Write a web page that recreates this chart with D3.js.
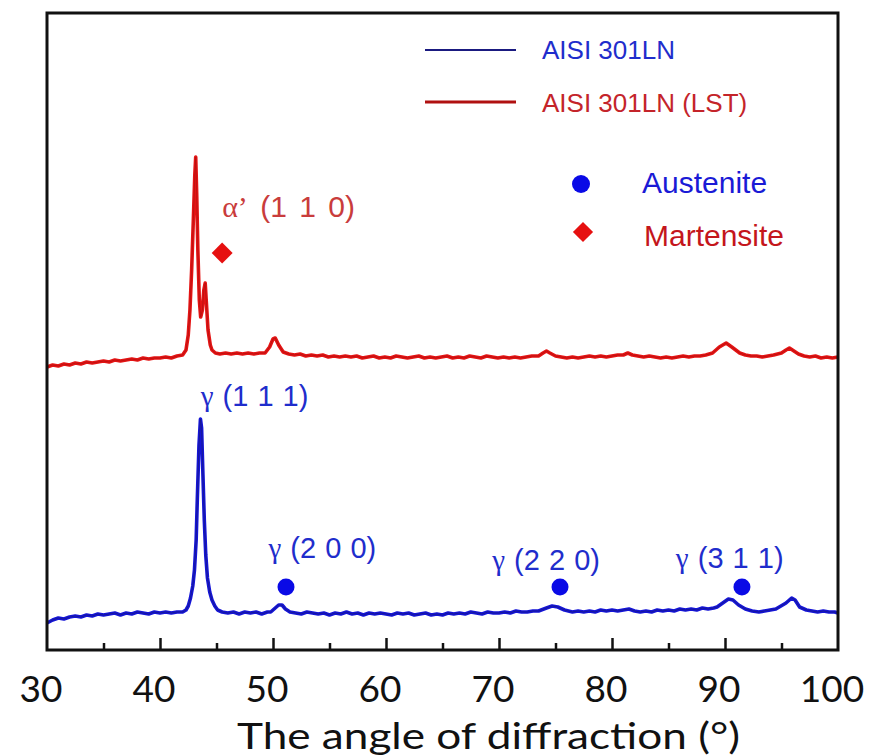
<!DOCTYPE html>
<html>
<head>
<meta charset="utf-8">
<script src="https://cdn.jsdelivr.net/npm/d3@7"></script>
<style>
  body { margin: 0; background: #fff; }
  svg { display: block; }
</style>
</head>
<body>
<svg width="878" height="756"></svg>
<script>
// XRD patterns, intensity in arbitrary units
var untreated = [
  [30.0,27],[30.5,30],[31.0,32],[31.5,31],[32.0,33],[32.5,34],[33.0,33],[33.5,35],[34.0,34],[34.5,36],
  [35.0,35],[35.5,36],[36.0,37],[36.5,35],[37.0,37],[37.5,36],[38.0,38],[38.5,37],[39.0,36],[39.5,38],
  [40.0,37],[40.5,38],[41.0,37],[41.5,38],[42.0,38],[42.3,40],[42.5,44],[42.7,52],[42.9,64],[43.05,80],
  [43.2,110],[43.3,150],[43.45,205],[43.58,231],[43.68,222],[43.8,175],[43.92,130],[44.05,95],[44.2,72],
  [44.4,58],[44.6,50],[44.85,44],[45.1,40],[45.5,38],[46.0,37],[46.5,38],[47.0,36],[47.5,38],[48.0,37],
  [48.5,38],[49.0,36],[49.5,38],[49.8,38],[50.2,42],[50.5,45],[50.8,45],[51.1,41],[51.5,38],[52.0,37],
  [52.5,36],[53.0,38],[53.5,37],[54.0,36],[54.5,37],[55.0,35],[55.5,37],[56.0,36],[56.5,38],[57.0,36],
  [57.5,37],[58.0,35],[58.5,37],[59.0,36],[59.5,37],[60.0,36],[60.5,35],[61.0,37],[61.5,36],[62.0,37],
  [62.5,35],[63.0,36],[63.5,37],[64.0,35],[64.5,36],[65.0,35],[65.5,37],[66.0,36],[66.5,37],[67.0,36],
  [67.5,38],[68.0,37],[68.5,36],[69.0,38],[69.5,37],[70.0,37],[70.5,38],[71.0,37],[71.5,39],[72.0,38],
  [72.5,38],[73.0,39],[73.5,39],[74.2,42],[74.7,44],[75.2,43],[75.8,40],[76.5,38],[77.0,39],[77.5,38],
  [78.0,39],[78.5,38],[79.0,40],[79.5,39],[80.0,40],[80.5,39],[81.0,40],[81.5,41],[82.0,39],[82.5,38],
  [83.0,39],[83.5,38],[84.0,40],[84.5,39],[85.0,40],[85.5,39],[86.0,41],[86.5,40],[87.0,41],[87.5,40],
  [88.0,42],[88.5,41],[89.0,42],[89.3,43],[89.8,47],[90.3,51],[90.7,50],[91.2,45],[91.8,41],[92.4,39],
  [93.0,38],[93.5,39],[94.0,40],[94.5,41],[94.8,43],[95.4,47],[95.9,52],[96.2,50],[96.6,43],[97.2,40],
  [97.7,39],[98.2,38],[98.7,39],[99.2,38],[99.7,38],[100,37]
];

var treated = [
  [30.0,283],[30.5,285],[31.0,284],[31.5,286],[32.0,285],[32.5,287],[33.0,286],[33.5,288],[34.0,287],[34.5,288],
  [35.0,289],[35.5,288],[36.0,290],[36.5,289],[37.0,290],[37.5,291],[38.0,290],[38.5,292],[39.0,291],[39.5,292],
  [40.0,292],[40.5,293],[41.0,292],[41.5,294],[42.0,295],[42.3,300],[42.5,315],[42.65,340],[42.8,380],[42.95,430],
  [43.08,475],[43.16,493],[43.25,455],[43.35,400],[43.48,350],[43.6,333],[43.75,340],[43.88,360],[44.0,367],
  [44.1,348],[44.25,320],[44.45,305],[44.6,300],[44.9,297],[45.3,296],[45.8,297],[46.3,296],[46.8,297],[47.3,296],
  [47.8,297],[48.3,296],[48.8,297],[49.3,297],[49.7,303],[50.0,311],[50.2,312],[50.5,305],[50.9,298],[51.4,296],
  [51.9,295],[52.4,296],[52.9,294],[53.4,295],[53.9,294],[54.4,295],[54.9,293],[55.4,294],[55.9,293],[56.4,294],
  [56.9,293],[57.4,294],[57.9,292],[58.4,293],[58.9,294],[59.4,292],[59.9,293],[60.4,292],[60.9,294],[61.4,293],
  [61.9,292],[62.4,293],[62.9,294],[63.4,292],[63.9,293],[64.4,292],[64.9,293],[65.4,294],[65.9,292],[66.4,293],
  [66.9,292],[67.4,294],[67.9,293],[68.4,292],[68.9,294],[69.4,293],[69.9,292],[70.4,293],[70.9,292],[71.4,293],
  [71.9,292],[72.4,293],[72.9,294],[73.5,294],[73.9,297],[74.2,299],[74.5,297],[75.0,294],[75.5,293],[76.0,292],
  [76.5,293],[77.0,292],[77.5,293],[78.0,294],[78.5,293],[79.0,294],[79.5,293],[80.0,294],[80.5,295],[81.0,295],
  [81.4,297],[81.8,295],[82.3,294],[82.8,293],[83.3,294],[83.8,293],[84.3,292],[84.8,293],[85.3,292],[85.8,293],
  [86.3,294],[86.8,293],[87.3,294],[87.8,294],[88.3,295],[88.9,297],[89.5,303],[90.1,307],[90.6,303],[91.3,297],
  [91.8,295],[92.3,294],[92.8,294],[93.3,293],[93.8,294],[94.3,295],[95.0,297],[95.4,300],[95.7,302],[96.1,299],
  [96.5,296],[97.0,294],[97.5,293],[98.0,294],[98.5,292],[99.0,293],[99.5,292],[100,293]
];

var xTicks = [30, 40, 50, 60, 70, 80, 90, 100];
var xMinorTicks = [35, 45, 55, 65, 75, 85, 95];

// phase markers [angle, level]
var austeniteMarks = [[51.15, 63], [75.4, 63], [91.5, 63]];
var martensiteMarks = [[45.5, 397]];

// peak labels [text, angle, level]
var austeniteLabels = [
  ["γ (1 1 1)", 43.6, 244],
  ["γ (2 0 0)", 49.6, 92],
  ["γ (2 2 0)", 69.4, 80],
  ["γ (3 1 1)", 85.65, 82]
];
var martensiteLabels = [["α’ (1 1 0)", 45.5, 433]];

var seriesNames = ["AISI 301LN", "AISI 301LN (LST)"];

var svg = d3.select("svg");
var plotLeft = 47, plotRight = 838, plotTop = 13, plotBottom = 650;

var x = d3.scaleLinear().domain([30, 100]).range([plotLeft, plotRight]);
var y = d3.scaleLinear().domain([0, 637]).range([plotBottom, plotTop]);

var blue = "#1414d6", blueDark = "#1a1a80", red = "#e41414", redDark = "#b01010";
var blueText = "#1f2dcc", redText = "#c4242a";

var line = d3.line()
    .x(function(d) { return x(d[0]); })
    .y(function(d) { return y(d[1]); });

// patterns: wide bright stroke with a dark core
[[untreated, blue, blueDark], [treated, red, redDark]].forEach(function(s) {
    svg.append("path").datum(s[0])
        .attr("d", line).attr("fill", "none")
        .attr("stroke", s[1]).attr("stroke-width", 3.6).attr("stroke-linejoin", "round");
    svg.append("path").datum(s[0])
        .attr("d", line).attr("fill", "none")
        .attr("stroke", s[2]).attr("stroke-width", 1).attr("stroke-opacity", 0.7);
});

// frame
svg.append("rect")
    .attr("x", plotLeft).attr("y", plotTop)
    .attr("width", plotRight - plotLeft).attr("height", plotBottom - plotTop)
    .attr("fill", "none").attr("stroke", "#111").attr("stroke-width", 3);

// x axis, ticks pointing inward
var axis = svg.append("g").attr("transform", "translate(0," + plotBottom + ")");
axis.call(d3.axisBottom(x).tickValues(xTicks.slice(1, -1)).tickSize(-12).tickFormat(""));
axis.append("g").call(d3.axisBottom(x).tickValues(xMinorTicks).tickSize(-7).tickFormat(""));
axis.selectAll(".domain").remove();
axis.selectAll("line").attr("stroke", "#111").attr("stroke-width", 2.5);

svg.append("g").selectAll("text")
    .data(xTicks).enter().append("text")
    .attr("x", function(d) { return x(d) - 6; })
    .attr("y", 702)
    .attr("text-anchor", "middle")
    .style("font-family", "Lato, 'Open Sans', sans-serif")
    .style("font-size", "37px")
    .attr("fill", "#111")
    .text(function(d) { return d; });

svg.append("text")
    .attr("x", 237).attr("y", 749)
    .attr("textLength", 503).attr("lengthAdjust", "spacingAndGlyphs")
    .style("font-family", "Lato, 'Open Sans', sans-serif")
    .style("font-size", "37px")
    .attr("fill", "#111")
    .text("The angle of diffraction (°)");

// phase markers
svg.append("g").selectAll("circle")
    .data(austeniteMarks).enter().append("circle")
    .attr("cx", function(d) { return x(d[0]); })
    .attr("cy", function(d) { return y(d[1]); })
    .attr("r", 8.5).attr("fill", "#0a0ae6");

svg.append("g").selectAll("path")
    .data(martensiteMarks).enter().append("path")
    .attr("d", d3.symbol().type(d3.symbolDiamond2).size(280))
    .attr("transform", function(d) { return "translate(" + x(d[0]) + "," + y(d[1]) + ")"; })
    .attr("fill", "#e61010");

// peak labels: greek letter in a serif face, indices in sans
function peakText(data, color, size, gap) {
    var t = svg.append("g").selectAll("text")
        .data(data).enter().append("text")
        .attr("x", function(d) { return x(d[1]); })
        .attr("y", function(d) { return y(d[2]); })
        .style("font-family", "'Liberation Sans', Arial, sans-serif")
        .style("font-size", size + "px")
        .style("word-spacing", gap + "px")
        .attr("fill", color);
    t.append("tspan")
        .style("font-family", "'Liberation Serif', 'DejaVu Serif', serif")
        .text(function(d) { return d[0].split(" ")[0]; });
    t.append("tspan")
        .text(function(d) { return d[0].slice(d[0].indexOf(" ")); });
}
peakText(austeniteLabels, blueText, 29, 1);
peakText(martensiteLabels, "#c93c3c", 30, 4);

// legend
var legend = svg.append("g");
[[blueDark, blueText, 50, 59], [redDark, redText, 102, 112]].forEach(function(l, i) {
    legend.append("line")
        .attr("x1", 425).attr("x2", 516).attr("y1", l[2]).attr("y2", l[2])
        .attr("stroke", l[0]).attr("stroke-width", i ? 3 : 2.2);
    legend.append("text")
        .attr("x", 542).attr("y", l[3])
        .style("font-family", "'Liberation Sans', Arial, sans-serif")
        .style("font-size", "26px")
        .attr("fill", l[1])
        .text(seriesNames[i]);
});

legend.append("circle").attr("cx", 581).attr("cy", 184).attr("r", 9).attr("fill", "#0a0ae6");
legend.append("text").attr("x", 642).attr("y", 193)
    .style("font-family", "'Liberation Sans', Arial, sans-serif")
    .style("font-size", "30px").attr("fill", "#1a1ad6").text("Austenite");
legend.append("path")
    .attr("d", d3.symbol().type(d3.symbolDiamond2).size(260))
    .attr("transform", "translate(583,232)")
    .attr("fill", "#e61010");
legend.append("text").attr("x", 644).attr("y", 246)
    .style("font-family", "'Liberation Sans', Arial, sans-serif")
    .style("font-size", "30px").attr("fill", "#c4161c").text("Martensite");
</script>
</body>
</html>
